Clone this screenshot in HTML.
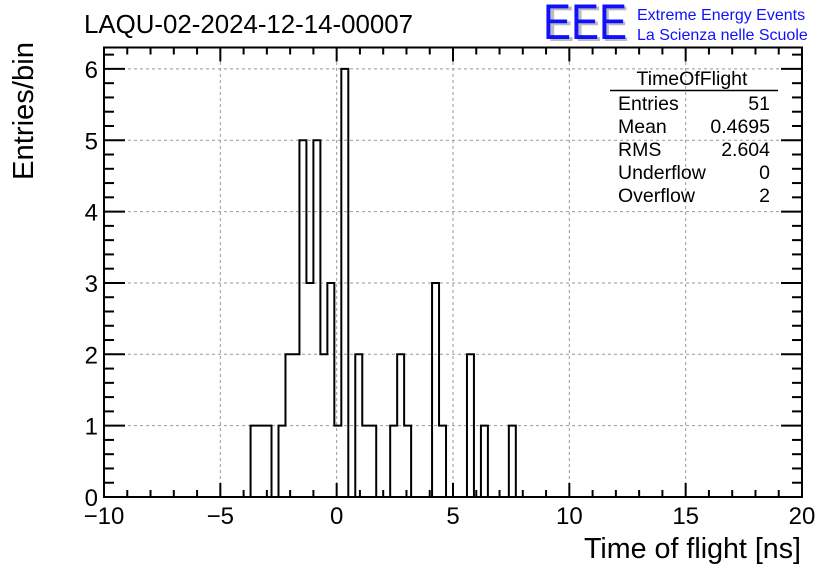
<!DOCTYPE html>
<html><head><meta charset="utf-8"><style>
body{margin:0;background:#fff;}
svg{display:block;font-family:"Liberation Sans",sans-serif;}
</style></head><body>
<svg id="c" width="836" height="572">
<rect width="836" height="572" fill="#fff"/>
<text x="84" y="33" font-size="25.5" textLength="329" lengthAdjust="spacingAndGlyphs">LAQU-02-2024-12-14-00007</text>
<g>
<text x="547" y="41" font-size="50" fill="#bbb" textLength="82" lengthAdjust="spacingAndGlyphs">EEE</text>
<text x="543" y="39" font-size="50" fill="#1010ff" textLength="84" lengthAdjust="spacingAndGlyphs">EEE</text>
<text x="637" y="20" font-size="16" fill="#1010ff">Extreme Energy Events</text>
<text x="637" y="40" font-size="16" fill="#1010ff">La Scienza nelle Scuole</text>
</g>
<g id="grid"></g>
<g id="hist"></g>
<g id="axes"></g>
<text x="801" y="558" font-size="28.5" text-anchor="end" textLength="217" lengthAdjust="spacingAndGlyphs">Time of flight [ns]</text>
<text transform="translate(33,180) rotate(-90)" font-size="28.5" textLength="138" lengthAdjust="spacingAndGlyphs">Entries/bin</text>
<g font-size="19.5">
<text x="692" y="85" text-anchor="middle">TimeOfFlight</text>
<line x1="610" y1="90.5" x2="778" y2="90.5" stroke="#000" stroke-width="1.5"/>
<text x="618" y="110">Entries</text><text x="770" y="110" text-anchor="end">51</text>
<text x="618" y="133">Mean</text><text x="770" y="133" text-anchor="end">0.4695</text>
<text x="618" y="156">RMS</text><text x="770" y="156" text-anchor="end">2.604</text>
<text x="618" y="179">Underflow</text><text x="770" y="179" text-anchor="end">0</text>
<text x="618" y="202">Overflow</text><text x="770" y="202" text-anchor="end">2</text>
</g>
</svg>
<script>
const binStart = -10;
const binWidth = 0.3;
const counts = [0,0,0,0,0,0,0,0,0,0,0,0,0,0,0,0,0,0,0,0,0,
 1,1,1,0,1,2,2,5,3,5,2,3,1,6,0,2,1,1,0,0,1,2,1,0,0,0,3,1,0,0,0,2,0,1,0,0,0,1];
const xTicks = [-10,-5,0,5,10,15,20];
const yTicks = [0,1,2,3,4,5,6];
const X0=104,X1=802,Y0=497,Y1=47.5,xmin=-10,xmax=20,ymax=6.3;
const sx=v=>X0+(v-xmin)/(xmax-xmin)*(X1-X0);
const sy=v=>Y0-v/ymax*(Y0-Y1);
const NS="http://www.w3.org/2000/svg";
function mk(t,a,p){const e=document.createElementNS(NS,t);for(const k in a)e.setAttribute(k,a[k]);p.appendChild(e);return e;}
const grid=document.getElementById('grid'),axes=document.getElementById('axes'),hist=document.getElementById('hist');
xTicks.forEach(v=>{if(v>xmin&&v<xmax){const l=mk('line',{x1:sx(v),x2:sx(v),y1:Y0,y2:Y1,stroke:'#999','stroke-dasharray':'3,3','stroke-width':1},grid);

}});
yTicks.forEach(v=>{if(v>0){const l=mk('line',{x1:X0,x2:X1,y1:sy(v),y2:sy(v),stroke:'#999','stroke-dasharray':'3,3','stroke-width':1},grid);

}});
let d='M'+sx(binStart)+','+sy(0);
counts.forEach((c,i)=>{const a=sx(binStart+i*binWidth),b=sx(binStart+(i+1)*binWidth);d+=' L'+a+','+sy(c)+' L'+b+','+sy(c);});
d+=' L'+sx(binStart+counts.length*binWidth)+','+sy(0);
const p=mk('path',{d:d,fill:'none',stroke:'#000','stroke-width':2},hist);


const f=mk('rect',{x:X0,y:Y1,width:X1-X0,height:Y0-Y1,fill:'none',stroke:'#000','stroke-width':2},axes);


for(let v=xmin;v<=xmax;v++){const maj=v%5===0;const L=maj?14:7;
 mk('line',{x1:sx(v),x2:sx(v),y1:Y0,y2:Y0-L,stroke:'#000','stroke-width':2},axes);
 mk('line',{x1:sx(v),x2:sx(v),y1:Y1,y2:Y1+L,stroke:'#000','stroke-width':2},axes);}
xTicks.forEach(v=>{const t=mk('text',{x:sx(v),y:524,'font-size':24,'text-anchor':'middle'},axes);t.textContent=(v<0?'\u2212'+(-v):v);

});
for(let k=0;k<=31;k++){const v=k*0.2;if(v>ymax)break;const maj=k%5===0;const L=maj?21:10;
 mk('line',{x1:X0,x2:X0+L,y1:sy(v),y2:sy(v),stroke:'#000','stroke-width':2},axes);
 mk('line',{x1:X1,x2:X1-L,y1:sy(v),y2:sy(v),stroke:'#000','stroke-width':2},axes);}
yTicks.forEach(v=>{const t=mk('text',{x:98,y:sy(v)+9,'font-size':24,'text-anchor':'end'},axes);t.textContent=v;

});
</script>
</body></html>
